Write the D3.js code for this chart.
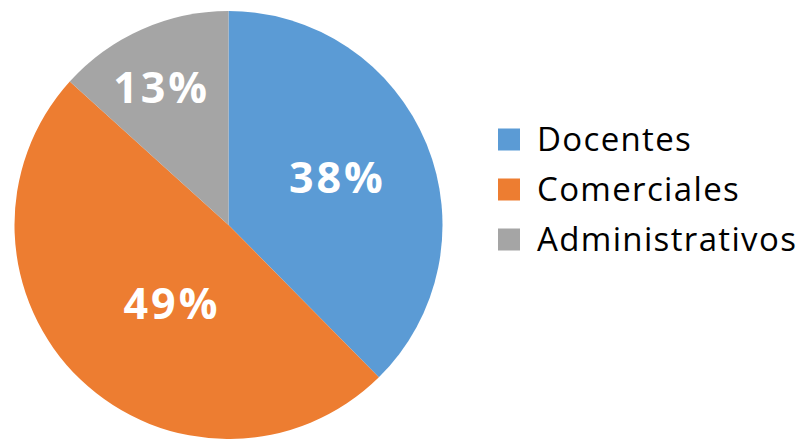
<!DOCTYPE html>
<html>
<head>
<meta charset="utf-8">
<script src="https://cdn.jsdelivr.net/npm/d3@7"></script>
<style>
  body { margin: 0; background: #fff; }
  svg { display: block; }
</style>
</head>
<body>
<div id="chart"></div>
<script>
// Data
const categories = ["Docentes", "Comerciales", "Administrativos"];
const values = [37.6, 49.1, 13.3];
const labels = ["38%", "49%", "13%"];
const colors = ["#5B9BD5", "#ED7D31", "#A5A5A5"];

// label placement: fraction of radius + small nudge (best fit look)
const labelRadius = [0.555, 0.45, 0.713];
const labelNudge = [[-1, -2], [10, 9], [-5, 2]];

// Dimensions
const width = 803, height = 439;
const cx = 228.5, cy = 225, radius = 214;

const svg = d3.select("#chart").append("svg")
    .attr("width", width)
    .attr("height", height);

const g = svg.append("g")
    .attr("transform", `translate(${cx}, ${cy})`);

const pie = d3.pie()
    .sort(null)
    .value(d => d);

const arcs = pie(values);

const arc = d3.arc()
    .innerRadius(0)
    .outerRadius(radius);

g.selectAll(".slice")
    .data(arcs)
  .enter().append("path")
    .attr("class", "slice")
    .attr("d", arc)
    .attr("fill", (d, i) => colors[i]);

// percent labels
g.selectAll(".label")
    .data(arcs)
  .enter().append("text")
    .attr("class", "label")
    .attr("transform", (d, i) => {
      const r = radius * labelRadius[i];
      const c = d3.arc().innerRadius(r).outerRadius(r).centroid(d);
      return `translate(${c[0] + labelNudge[i][0]}, ${c[1] + labelNudge[i][1]})`;
    })
    .attr("text-anchor", "middle")
    .attr("dy", "0.357em")
    .style("font-family", "'Open Sans', sans-serif")
    .style("font-weight", "bold")
    .style("font-size", "43px")
    .style("letter-spacing", "3px")
    .style("fill", "#fff")
    .text((d, i) => labels[i]);

// Legend
const legendY = d3.scalePoint()
    .domain(categories)
    .range([139.5, 239.5]);

const legend = svg.append("g")
    .attr("class", "legend");

const items = legend.selectAll(".item")
    .data(categories)
  .enter().append("g")
    .attr("class", "item")
    .attr("transform", d => `translate(498, ${legendY(d)})`);

items.append("rect")
    .attr("x", 0)
    .attr("y", -11)
    .attr("width", 22)
    .attr("height", 22)
    .attr("fill", (d, i) => colors[i]);

items.append("text")
    .attr("x", 39)
    .attr("dy", "0.357em")
    .style("font-family", "'Open Sans', sans-serif")
    .style("font-size", "33px")
    .style("letter-spacing", "1.35px")
    .style("fill", "#000")
    .text(d => d);
</script>
</body>
</html>
